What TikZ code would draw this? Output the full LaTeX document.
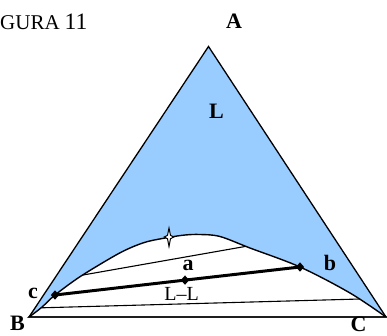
\documentclass[tikz,border=0pt]{standalone}
\usepackage{fontspec}
\setmainfont{Liberation Serif}
\usetikzlibrary{shapes.geometric}
\definecolor{phase}{RGB}{153,204,255}
\begin{document}
\begin{tikzpicture}[x=1pt,y=-1pt,
  lbl/.style={font=\fontsize{22}{22}\selectfont\bfseries, inner sep=0pt, anchor=base},
  txt/.style={font=\fontsize{20}{20}\selectfont, inner sep=0pt, anchor=base},
  dot/.style={diamond, fill=black, draw=none, inner sep=0pt, minimum width=8.5pt, minimum height=9.5pt},
  edge/.style={line width=1.3pt},
  tie/.style={line width=1.1pt},
  bigtie/.style={line width=3pt},
  curve/.style={line width=1.4pt}]
\useasboundingbox (0,0) rectangle (387,335);
\coordinate (A) at (208.5,46.5);
\coordinate (B) at (29,317);
\coordinate (C) at (386,317);
% blue two-phase region
\fill[phase] (A) -- (B) -- (C) -- cycle;
\filldraw[fill=white, draw=black, curve] (B) -- plot[smooth, tension=0.55] coordinates {(29,317) (41.5,307.5) (55,295) (80,276.7) (113,256.7) (130,248) (147,241.7) (168,237.5) (185,235) (200,234.5) (220,236.5) (250,248) (300,267) (350,293) (386,317)} -- cycle;
% triangle
\draw[edge] (A) -- (B) -- (C) -- cycle;
% tie lines
\coordinate (u1) at (83,275);
\coordinate (u2) at (245,246.5);
\coordinate (l1) at (41.5,307.8);
\coordinate (l2) at (360,299);
\draw[tie] (u1) -- (u2);
\draw[tie] (l1) -- (l2);
\node[dot] (nc) at (55,295) {};
\node[dot] (na) at (185,280.1) {};
\node[dot] (nb) at (300,267) {};
\draw[bigtie] (nc.center) -- (na.center) -- (nb.center);
% plait point star
\filldraw[fill=white, draw=black, line width=1pt] (169,228) -- (170.5,235.3) -- (173.8,237) -- (170.5,238.7) -- (169,246.5) -- (167.5,238.7) -- (164.2,237) -- (167.5,235.3) -- cycle;
% labels
\node[anchor=base west, inner sep=0pt] (title) at (0,29.5) {\fontsize{21}{21}\selectfont GURA\hspace{5pt}\fontsize{23.5}{23.5}\selectfont 11};
\node[lbl] (lA) at (234,28.3) {A};
\node[lbl] (lL) at (216.5,118.3) {L};
\node[lbl] (la) at (188,270.5) {a};
\node[lbl] (lb) at (330,270) {b};
\node[lbl] (lc) at (33,298) {c};
\node[lbl] (lB) at (17.5,330.5) {B};
\node[lbl] (lC) at (358.5,331) {C};
\node[txt] (lLL) at (181.5,300) {L–L};
\end{tikzpicture}
\end{document}
